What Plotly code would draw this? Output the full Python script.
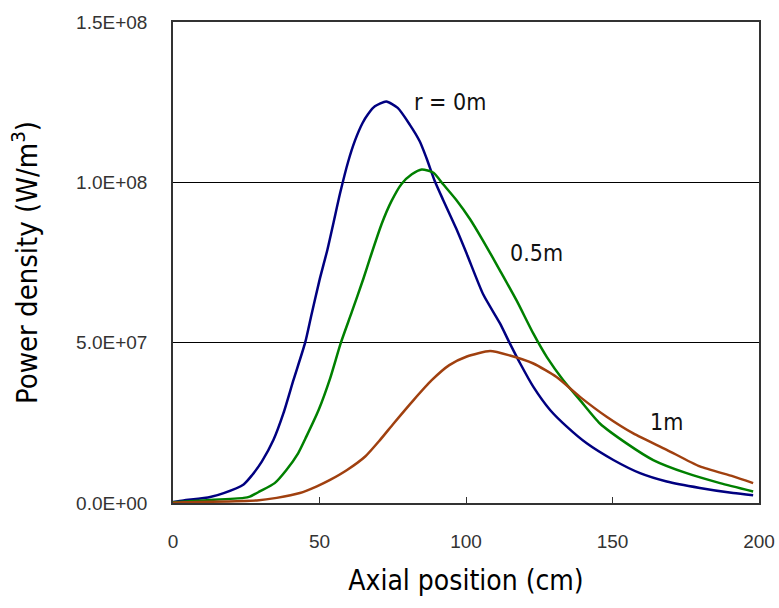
import plotly.graph_objects as go

# Axial power density profiles at three radial positions (W/m^3 vs cm)
x_r0 = [0, 3.6, 12.7, 17.3, 24.1, 26.9, 30.3, 34.3, 37.7, 41.1, 45.1, 47.2, 50.0, 52.7,
        54.8, 57.0, 59.8, 62.1, 64.7, 66.6, 68.9, 72.8, 76.7, 80.8, 84.2, 86.5, 89.3,
        92.2, 96.7, 100.3, 105.9, 111.6, 115.0, 118.5, 123.0, 128.7, 134.4, 141.2,
        150.3, 159.4, 168.5, 179.8, 191.2, 198.0]
y_r0 = [0.3, 0.8, 1.9, 3.1, 5.8, 8.6, 12.9, 19.7, 28.0, 38.3, 50.0, 58.5, 69.5, 79.0,
        87.5, 96.5, 106.5, 113.0, 118.5, 121.3, 123.7, 125.2, 123.2, 118.0, 112.8, 107.6,
        100.5, 94.5, 85.5, 77.6, 65.0, 56.0, 49.7, 43.5, 36.2, 29.0, 23.8, 18.6, 13.4,
        9.3, 6.7, 4.7, 3.1, 2.4]

x_r05 = [0, 10.4, 24.1, 26.2, 29.6, 34.7, 38.7, 42.7, 45.5, 49.7, 53.6, 57.3, 61.0, 65.0,
         67.3, 71.2, 74.6, 78.0, 81.5, 84.9, 88.9, 92.2, 96.7, 101.4, 105.7, 111.6, 117.3,
         123.0, 127.6, 133.2, 138.9, 145.7, 154.8, 163.9, 175.3, 186.7, 198.0]
y_r05 = [0.2, 0.8, 1.6, 2.0, 3.6, 6.2, 10.3, 15.5, 20.7, 29.0, 38.8, 50.0, 59.5, 70.0,
         76.5, 87.0, 94.2, 99.5, 102.5, 104.0, 103.0, 99.4, 94.5, 88.5, 82.0, 72.5, 63.1,
         52.8, 45.5, 38.3, 32.1, 24.8, 18.6, 13.4, 9.3, 6.2, 3.6]

x_r1 = [0, 3.6, 28.6, 35.4, 43.3, 49.1, 53.6, 59.4, 65.6, 70.7, 75.3, 82.1, 88.3, 94.3,
        100.3, 108.2, 115.0, 123.0, 130.9, 138.9, 148.0, 157.1, 168.5, 179.8, 191.2, 198.0]
y_r1 = [0.1, 0.2, 0.8, 1.6, 3.1, 5.2, 7.2, 10.3, 14.5, 19.7, 24.8, 32.1, 38.3, 43.0,
        45.7, 47.4, 46.0, 43.5, 39.3, 33.1, 26.9, 21.7, 16.6, 11.4, 8.3, 6.2]

y_tickvals = [0, 5e7, 1e8, 1.5e8]
y_ticktext = ["0.0E+00", "5.0E+07", "1.0E+08", "1.5E+08"]
x_tickvals = [0, 50, 100, 150, 200]

# (x, y in 1e6 W/m^3, colour, label, label x, label y)
series = [
    (x_r0, y_r0, "#000080", "r = 0m", 94.5, 1.25e8),
    (x_r05, y_r05, "#008000", "0.5m", 124.2, 0.78e8),
    (x_r1, y_r1, "#A0400F", "1m", 168.5, 0.252e8),
]

narrow = "DejaVu Sans Condensed, Liberation Sans, Arial, sans-serif"

fig = go.Figure()
label_font = dict(family=narrow, size=23, color="#111")
for xs, ys, color, name, lx, ly in series:
    fig.add_trace(go.Scatter(
        x=xs, y=[v * 1e6 for v in ys], mode="lines", name=name,
        line=dict(color=color, width=2.5, shape="spline", smoothing=0.6),
        showlegend=False,
    ))
    fig.add_annotation(x=lx, y=ly, text=name, showarrow=False,
                       xanchor="center", yanchor="middle", font=label_font)

axis_line = dict(showline=True, linecolor="#333", linewidth=1.5, mirror=True)
tick_font = dict(family="Liberation Sans, Arial, sans-serif", size=19, color="#333")

fig.update_xaxes(
    range=[0, 200], tickvals=x_tickvals, ticks="inside", ticklen=6, tickcolor="#333",
    showgrid=False, zeroline=False, tickfont=tick_font, ticklabelstandoff=20,
    title=dict(text="Axial position (cm)", standoff=20,
               font=dict(family=narrow, size=28, color="#000")),
    **axis_line,
)
fig.update_yaxes(
    range=[0, 1.5e8], tickvals=y_tickvals, ticktext=y_ticktext, ticks="",
    showgrid=True, gridcolor="#000", gridwidth=1, zeroline=False,
    tickfont=tick_font, ticklabelstandoff=20,
    title=dict(text="Power density (W/m<sup>3</sup>)", standoff=30,
               font=dict(family=narrow, size=29, color="#000")),
    **axis_line,
)

fig.update_layout(
    width=779, height=608,
    margin=dict(l=173, r=20, t=22, b=105, autoexpand=False),
    paper_bgcolor="white", plot_bgcolor="white",
)

fig.write_html("out.html")
